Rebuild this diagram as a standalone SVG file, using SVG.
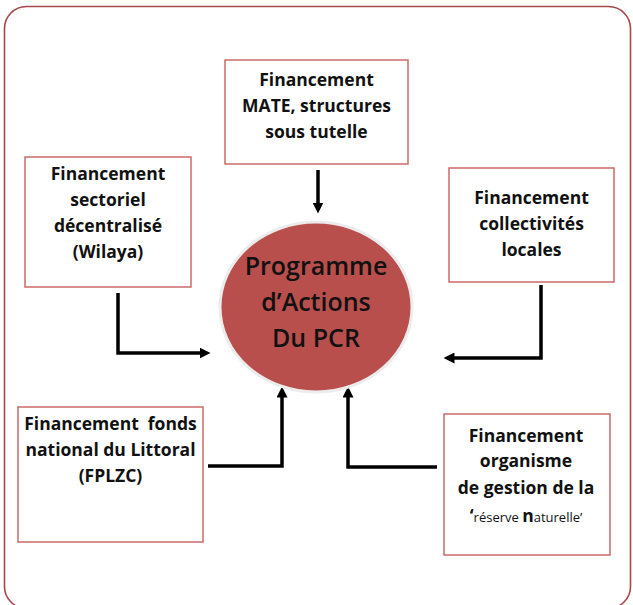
<svg xmlns="http://www.w3.org/2000/svg" width="633" height="605" viewBox="0 0 633 605">
<style>
.frame{fill:#ffffff;stroke:#a8474a;stroke-width:1.6}
.box{fill:#ffffff;stroke:#cd6a6a;stroke-width:1.5}
.bt{font-family:"Open Sans","Liberation Sans",sans-serif;font-weight:bold;font-size:17.5px;fill:#111111;text-anchor:middle}
.ct{font-family:"Open Sans","Liberation Sans",sans-serif;font-weight:600;font-size:25px;fill:#111111;text-anchor:middle}
.conn{fill:none;stroke:#000000;stroke-width:3.5;stroke-linejoin:miter}
.sm{font-weight:normal;font-size:13px}
</style>
<defs>
<marker id="arr" viewBox="0 0 10 10" refX="5" refY="5" markerWidth="11" markerHeight="11" markerUnits="userSpaceOnUse" orient="auto">
<path d="M0,0 L10,5 L0,10 z" fill="#000000"/>
</marker>
</defs>
<rect class="frame" x="4.5" y="6.5" width="626" height="602" rx="22"/>
<g id="connectors">
<path class="conn" d="M318,170 V208" marker-end="url(#arr)"/>
<path class="conn" d="M118,293 V353 H205" marker-end="url(#arr)"/>
<path class="conn" d="M541,285 V358 H449" marker-end="url(#arr)"/>
<path class="conn" d="M208,466 H282 V392" marker-end="url(#arr)"/>
<path class="conn" d="M437,467 H348 V392" marker-end="url(#arr)"/>
</g>
<g id="center">
<ellipse cx="316" cy="307" rx="96" ry="85" fill="#b94f4c" stroke="#ececec" stroke-width="3"/>
<text class="ct" x="316" y="275">Programme</text>
<text class="ct" x="316" y="311">d’Actions</text>
<text class="ct" x="316" y="347">Du PCR</text>
</g>
<g id="n-mate">
<rect class="box" x="225" y="60" width="183" height="104"/>
<text class="bt" x="316.5" y="86">Financement</text>
<text class="bt" x="316.5" y="112">MATE, structures</text>
<text class="bt" x="316.5" y="138">sous tutelle</text>
</g>
<g id="n-sectoriel">
<rect class="box" x="25" y="157" width="166" height="130"/>
<text class="bt" x="108" y="180">Financement</text>
<text class="bt" x="108" y="206">sectoriel</text>
<text class="bt" x="108" y="232">décentralisé</text>
<text class="bt" x="108" y="258">(Wilaya)</text>
</g>
<g id="n-collectivites">
<rect class="box" x="449" y="168" width="165" height="114"/>
<text class="bt" x="531.5" y="204">Financement</text>
<text class="bt" x="531.5" y="230">collectivités</text>
<text class="bt" x="531.5" y="256">locales</text>
</g>
<g id="n-fonds">
<rect class="box" x="18" y="407" width="185" height="135"/>
<text class="bt" x="110.5" y="430" xml:space="preserve">Financement  fonds</text>
<text class="bt" x="110.5" y="456">national du Littoral</text>
<text class="bt" x="110.5" y="482">(FPLZC)</text>
</g>
<g id="n-reserve">
<rect class="box" x="444" y="414" width="166" height="141"/>
<text class="bt" x="526" y="442">Financement</text>
<text class="bt" x="526" y="467">organisme</text>
<text class="bt" x="526" y="494">de gestion de la</text>
<text class="bt" x="526" y="522">‘<tspan class="sm">réserve </tspan>n<tspan class="sm">aturelle’</tspan></text>
</g>
</svg>
